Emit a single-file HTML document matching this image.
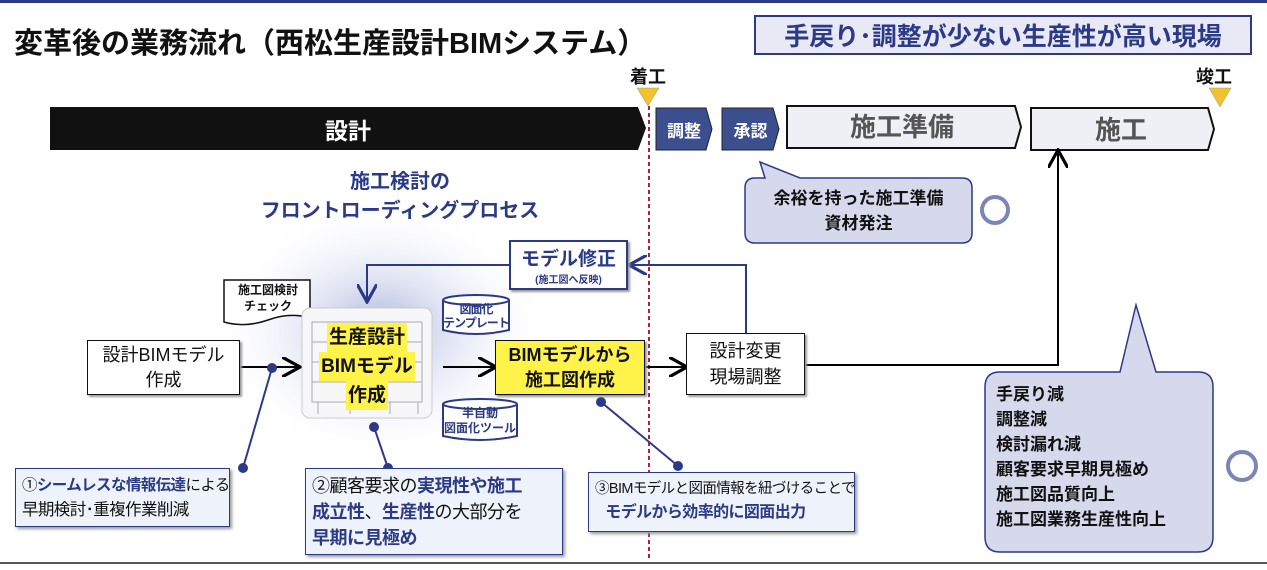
<!DOCTYPE html>
<html><head><meta charset="utf-8"><style>
*{margin:0;padding:0;box-sizing:border-box}
body{width:1267px;height:570px;position:relative;background:#fff;overflow:hidden;font-family:"Liberation Sans","Noto Sans CJK JP",sans-serif;color:#111}
.a{position:absolute}
.b{font-weight:bold}
.c{display:flex;align-items:center;justify-content:center;text-align:center;flex-direction:column}
.nv{color:#2b3a86}
.call{position:absolute;background:#eef3fb;border:1.5px solid #2b3a86;box-shadow:2px 2px 3px #999;white-space:nowrap;padding:4px 6px}
</style></head><body>
<div class="a" style="left:0;top:0;width:1267px;height:3px;background:#2b3a86"></div>
<div class="a" style="left:0;top:562px;width:1267px;height:2px;background:#555"></div>
<div class="a b" style="left:14px;top:20px;font-size:29px;white-space:nowrap">変革後の業務流れ（西松生産設計BIMシステム）</div>
<div class="a b c nv" style="left:754px;top:15px;width:498px;height:40px;background:#e8e9f4;border:2px solid #2b3a86;font-size:25px;white-space:nowrap">手戻り･調整が少ない生産性が高い現場</div>

<svg class="a" style="left:0;top:0" width="1267" height="570">
<defs><marker id="ar" markerWidth="10" markerHeight="10" refX="8" refY="5" orient="auto"><path d="M0,0 L9,5 L0,10" fill="none" stroke="#000" stroke-width="1.6"/></marker>
<marker id="arb" markerWidth="10" markerHeight="10" refX="8" refY="5" orient="auto"><path d="M0,0 L9,5 L0,10" fill="none" stroke="#2b3a86" stroke-width="1.6"/></marker>
<radialGradient id="gl"><stop offset="0" stop-color="#aab4dd"/><stop offset="1" stop-color="#fff" stop-opacity="0"/></radialGradient></defs>
<ellipse cx="380" cy="330" rx="170" ry="130" fill="url(#gl)"/>
<polygon points="50,107 638,107 646,128 638,150 50,150" fill="#111"/>
<polygon points="656,108 706,108 712,129 706,150 656,150" fill="#3b4f8f" stroke="#222" stroke-width="1"/>
<polygon points="722,108 773,108 779,129 773,150 722,150" fill="#3b4f8f" stroke="#222" stroke-width="1"/>
<polygon points="787,106 1015,106 1021,127 1015,148 787,148" fill="#eef0f5" stroke="#111" stroke-width="2"/>
<polygon points="1031,108 1208,108 1214,129 1208,150 1031,150" fill="#eef0f5" stroke="#111" stroke-width="2"/>
<polygon points="637,88 659,88 648,106" fill="#f2c12e" stroke="#999" stroke-width="0.5"/>
<polygon points="1209,88 1231,88 1220,107" fill="#f2c12e" stroke="#999" stroke-width="0.5"/>
<line x1="649" y1="106" x2="649" y2="560" stroke="#b0203a" stroke-width="2" stroke-dasharray="4,3"/>
<path d="M760,162 L800,178 L962,178 Q972,178 972,188 L972,233 Q972,243 962,243 L755,243 Q745,243 745,233 L745,188 Q745,178 755,178 L765,178 Z" fill="#d6d8ec" stroke="#2b3a86" stroke-width="1.5"/>
<circle cx="995" cy="210" r="13" fill="none" stroke="#7b86b8" stroke-width="4"/>
<path d="M1136,305 L1156,372 L1198,372 Q1213,372 1213,387 L1213,537 Q1213,552 1198,552 L1000,552 Q985,552 985,537 L985,387 Q985,372 1000,372 L1120,372 Z" fill="#d6d8ec" stroke="#2b3a86" stroke-width="1.5"/>
<circle cx="1242" cy="466" r="14" fill="none" stroke="#7b86b8" stroke-width="4"/>
<polyline points="746,333 746,265 631,265" fill="none" stroke="#2b3a86" stroke-width="2" marker-end="url(#arb)"/>
<polyline points="509,265 367,265 367,300" fill="none" stroke="#2b3a86" stroke-width="2" marker-end="url(#arb)"/>
<line x1="240" y1="367" x2="298" y2="367" stroke="#000" stroke-width="2" marker-end="url(#ar)"/>
<line x1="443" y1="367" x2="494" y2="367" stroke="#000" stroke-width="2" marker-end="url(#ar)"/>
<line x1="645" y1="367" x2="685" y2="367" stroke="#000" stroke-width="2" marker-end="url(#ar)"/>
<polyline points="805,365 1058,365 1058,152" fill="none" stroke="#000" stroke-width="2" marker-end="url(#ar)"/>
<g stroke="#2b3a86" stroke-width="2" fill="#2b3a86">
<line x1="272" y1="368" x2="243" y2="468"/><circle cx="272" cy="368" r="4"/><circle cx="243" cy="468" r="4"/>
<line x1="374" y1="427" x2="388" y2="468"/><circle cx="374" cy="427" r="4"/><circle cx="388" cy="468" r="4"/>
<line x1="601" y1="402" x2="678" y2="466"/><circle cx="601" cy="402" r="4"/><circle cx="678" cy="466" r="4"/>
</g>
<path d="M224,280 L310,280 L310,318 Q290,312 268,320 Q245,328 224,322 Z" fill="#fff" stroke="#111" stroke-width="1.5"/>
<g fill="#fff" stroke="#2b3a86" stroke-width="2">
<path d="M443,300 L443,330 Q476,338 509,330 L509,300"/><ellipse cx="476" cy="300" rx="33" ry="5"/>
<path d="M443,404 L443,436 Q480,444 517,436 L517,404"/><ellipse cx="480" cy="404" rx="37" ry="5"/>
</g>
<rect x="302" y="308" width="130" height="110" rx="8" fill="#f7f7f9" stroke="#ccc"/>
<g stroke="#aaa" stroke-width="1" fill="none">
<rect x="312" y="322" width="110" height="80"/><line x1="312" y1="342" x2="422" y2="342"/><line x1="312" y1="362" x2="422" y2="362"/><line x1="312" y1="382" x2="422" y2="382"/>
<line x1="318" y1="402" x2="318" y2="414"/><line x1="350" y1="402" x2="350" y2="414"/><line x1="390" y1="402" x2="390" y2="414"/><line x1="418" y1="402" x2="418" y2="414"/>
</g>
</svg>

<div class="a b c" style="left:50px;top:107px;width:596px;height:43px;color:#fff;font-size:23px">設計</div>
<div class="a b c" style="left:656px;top:108px;width:56px;height:42px;color:#fff;font-size:17px">調整</div>
<div class="a b c" style="left:722px;top:108px;width:57px;height:42px;color:#fff;font-size:17px">承認</div>
<div class="a b c" style="left:787px;top:104px;width:230px;height:42px;color:#555;font-size:26px">施工準備</div>
<div class="a b c" style="left:1031px;top:107px;width:180px;height:42px;color:#555;font-size:26px">施工</div>
<div class="a b" style="left:630px;top:63px;font-size:18px">着工</div>
<div class="a b" style="left:1196px;top:63px;font-size:18px">竣工</div>
<div class="a b c" style="left:745px;top:180px;width:227px;height:62px;font-size:17px;line-height:25px;white-space:nowrap">余裕を持った施工準備<br>資材発注</div>
<div class="a b nv" style="left:250px;top:168px;width:300px;text-align:center;font-size:20px;line-height:29px;white-space:nowrap">施工検討の<br>フロントローディングプロセス</div>
<div class="a c nv" style="left:509px;top:240px;width:119px;height:50px;background:#fff;border:2px solid #2b3a86;box-shadow:2px 2px 2px #999;white-space:nowrap"><span class="b" style="font-size:19px">モデル修正</span><span class="b" style="font-size:10px">(施工図へ反映)</span></div>
<div class="a b" style="left:226px;top:282px;width:84px;text-align:center;font-size:12px;line-height:16px">施工図検討<br>チェック</div>
<div class="a b nv" style="left:438px;top:302px;width:76px;text-align:center;font-size:12px;line-height:14px;white-space:nowrap;letter-spacing:-1px">図面化<br>テンプレート</div>
<div class="a b nv" style="left:443px;top:406px;width:74px;text-align:center;font-size:12px;line-height:15px;white-space:nowrap">半自動<br>図面化ツール</div>
<div class="a b c" style="left:306px;top:320px;width:122px;height:92px;font-size:19px;line-height:29px;white-space:nowrap"><span style="background:#fff34a;padding:0 2px">生産設計</span><span style="background:#fff34a;padding:0 2px">BIMモデル</span><span style="background:#fff34a;padding:0 2px">作成</span></div>
<div class="a c" style="left:87px;top:340px;width:153px;height:55px;border:1.5px solid #111;background:#fff;box-shadow:2px 2px 2px #999;font-size:18px;line-height:25px;white-space:nowrap">設計BIMモデル<br>作成</div>
<div class="a b c" style="left:495px;top:340px;width:150px;height:55px;border:1.5px solid #111;background:#fff34a;box-shadow:2px 2px 2px #999;font-size:18px;line-height:25px;white-space:nowrap">BIMモデルから<br>施工図作成</div>
<div class="a c" style="left:686px;top:333px;width:119px;height:62px;border:1.5px solid #111;background:#fff;box-shadow:2px 2px 2px #999;font-size:18px;line-height:26px;white-space:nowrap">設計変更<br>現場調整</div>
<div class="a b" style="left:996px;top:382px;font-size:17px;line-height:25px;white-space:nowrap">手戻り減<br>調整減<br>検討漏れ減<br>顧客要求早期見極め<br>施工図品質向上<br>施工図業務生産性向上</div>
<div class="call" style="left:15px;top:468px;width:215px;height:59px;line-height:25px;font-size:15.5px;letter-spacing:-0.6px">①<b class="nv">シームレスな情報伝達</b>による<br><span style="font-size:16.5px">早期検討･重複作業削減</span></div>
<div class="call" style="left:305px;top:468px;width:258px;height:87px;font-size:18px;line-height:26px;letter-spacing:-0.5px">②顧客要求の<b class="nv">実現性や施工</b><br><b class="nv">成立性</b>、<b class="nv">生産性</b>の大部分を<br><b class="nv">早期に見極め</b></div>
<div class="call" style="left:588px;top:472px;width:267px;height:60px;font-size:14.5px;line-height:24px;letter-spacing:-0.6px">③BIMモデルと図面情報を紐づけることで<br>&nbsp;&nbsp;&nbsp;<b class="nv" style="font-size:16px">モデルから効率的に図面出力</b></div>
</body></html>
